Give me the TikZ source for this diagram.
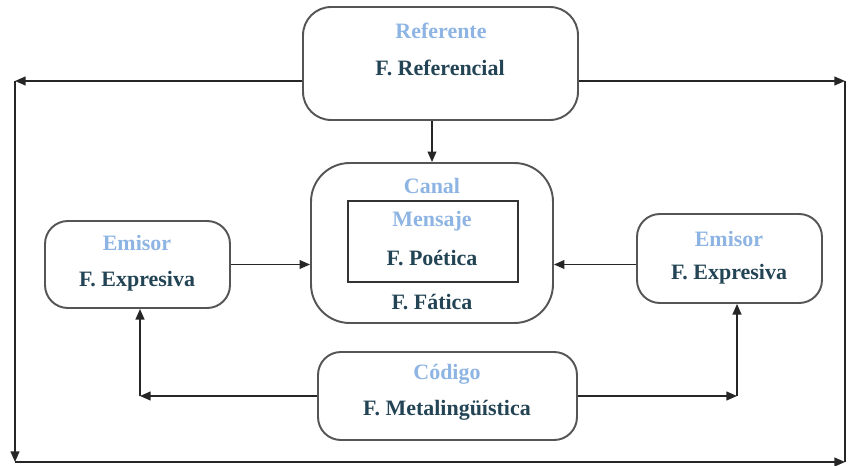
\documentclass[tikz,border=0pt]{standalone}
\usepackage{fontspec}
\setmainfont{Liberation Serif}
\usepackage{xcolor}
\usetikzlibrary{arrows.meta, positioning}
\definecolor{titulo}{RGB}{141,180,226}
\definecolor{funcion}{RGB}{35,68,84}
\definecolor{borde}{RGB}{85,85,85}
\tikzset{
  caja/.style={draw=borde, line width=1.1pt, rounded corners=16pt, inner sep=0pt},
  marco/.style={draw=black!80, line width=0.9pt, inner sep=0pt},
  tit/.style={text=titulo, font=\bfseries\fontsize{12.5}{15}\selectfont, inner sep=0pt},
  fun/.style={text=funcion, font=\bfseries\fontsize{12.5}{15}\selectfont, inner sep=0pt},
  flecha/.style={draw=black!85, line width=0.9pt, -{Triangle[length=6pt,width=5pt]}},
  linea/.style={draw=black!85, line width=0.9pt}
}
\begin{document}
\begin{tikzpicture}[x=0.02cm,y=-0.02cm]
    \useasboundingbox (0,0) rectangle (849,466);
    % Cajas
    \node[caja, minimum width=5.5cm, minimum height=2.26cm] (ref) at (440.5,63.5) {};
    \node[caja, rounded corners=22pt, minimum width=4.84cm, minimum height=3.2cm] (canal) at (432,243) {};
    \node[marco, minimum width=3.4cm, minimum height=1.62cm] (msj) at (433,241.5) {};
    \node[caja, rounded corners=13pt, minimum width=3.7cm, minimum height=1.74cm] (emisorL) at (137.5,264.5) {};
    \node[caja, rounded corners=13pt, minimum width=3.7cm, minimum height=1.78cm] (emisorR) at (729.5,258.5) {};
    \node[caja, rounded corners=13pt, minimum width=5.18cm, minimum height=1.76cm] (cod) at (447.5,396) {};
    % Textos
    \node[tit] (tref) at (441,31) {Referente};
    \node[fun] (fref) at (440,68) {F. Referencial};
    \node[tit] (tcanal) at (432,186) {Canal};
    \node[tit] (tmsj) at (432,221) {Mensaje};
    \node[fun] (fmsj) at (432,258) {F. Poética};
    \node[fun] (fcanal) at (432,302) {F. Fática};
    \node[tit] (temL) at (137,243) {Emisor};
    \node[fun] (femL) at (137,281) {F. Expresiva};
    \node[tit] (temR) at (729,239) {Emisor};
    \node[fun] (femR) at (729,274) {F. Expresiva};
    \node[tit] (tcod) at (447,374) {Código};
    \node[fun] (fcod) at (447,410) {F. Metalingüística};
    % Esquinas del circuito exterior
    \coordinate (tl) at (15,81);
    \coordinate (tr) at (845,81);
    \coordinate (bl) at (15,462);
    \coordinate (br) at (845,462);
    \coordinate (cl) at (140,396);
    \coordinate (cr) at (737,396);
    % Conexiones
    \draw[flecha] (tl -| ref.west) -- (tl);
    \draw[flecha] (tl) -- (bl);
    \draw[flecha] (bl) -- (br);
    \draw[flecha] (tr -| ref.east) -- (tr);
    \draw[linea] (tr) -- (br);
    \draw[flecha] (canal.north |- ref.south) -- (canal.north);
    \draw[flecha] (emisorL.east) -- (emisorL.east -| canal.west);
    \draw[flecha] (emisorL.east -| emisorR.west) -- (emisorL.east -| canal.east);
    \draw[flecha] (cod.west) -- (cl);
    \draw[flecha] (cl) -- (cl |- emisorL.south);
    \draw[flecha] (cod.east) -- (cr);
    \draw[flecha] (cr) -- (cr |- emisorR.south);
\end{tikzpicture}
\end{document}
